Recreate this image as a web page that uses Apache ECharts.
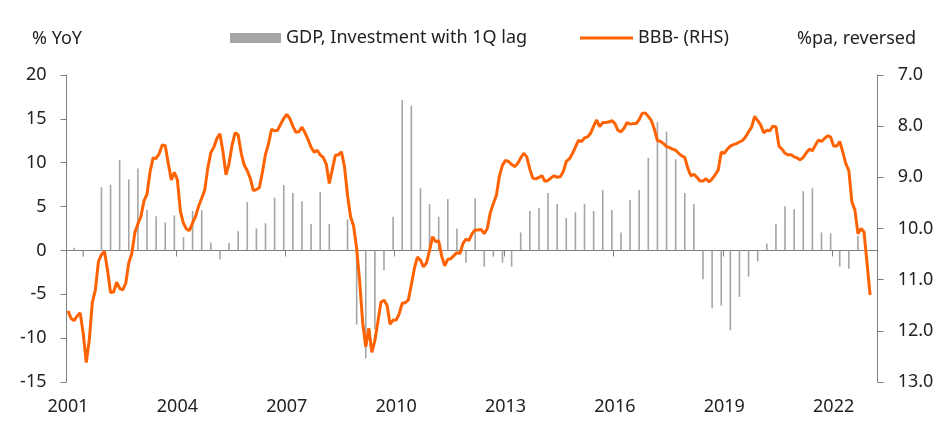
<!DOCTYPE html>
<html>
<head>
<meta charset="utf-8">
<script src="https://cdn.jsdelivr.net/npm/echarts@6/dist/echarts.min.js"></script>
<style>
  html, body { margin: 0; padding: 0; background: #fff; }
  #main { width: 952px; height: 438px; }
</style>
</head>
<body>
<div id="main"></div>
<script>
var FONT = '"Noto Sans", sans-serif';

// monthly categories, Jan 2001 .. Mar 2023
var startYear = 2001;
var monthCount = 267;
var months = [];
for (var i = 0; i < monthCount; i++) {
    var y = startYear + Math.floor(i / 12);
    var m = (i % 12) + 1;
    months.push(y + '-' + (m < 10 ? '0' + m : m));
}

// GDP, Investment with 1Q lag (% YoY), quarterly from 2001Q1, plotted on the quarter's last month
var gdpInv = [
    0.3, -0.7, 0, 7.2,
    7.5, 10.3, 8.1, 9.35,
    4.6, 3.9, 3.2, 4.0,
    1.5, 4.5, 4.6, 0.9,
    -1.0, 0.85, 2.2, 5.5,
    2.5, 3.1, 6.0, 7.45,
    6.55, 5.6, 3.0, 6.65,
    3.0, 0, 3.55, -8.45,
    -12.3, -9.0, -2.25, 3.85,
    17.15, 16.5, 7.1, 5.3,
    3.85, 5.85, 2.5, -1.4,
    5.95, -1.85, -0.7, -1.4,
    -1.85, 2.05, 4.5, 4.85,
    6.55, 5.3, 3.7, 4.35,
    5.3, 4.5, 6.9, 4.6,
    2.05, 5.75, 6.9, 10.55,
    14.65, 13.55, 10.4, 6.55,
    5.3, -3.3, -6.6, -6.3,
    -9.1, -5.3, -3.0, -1.25,
    0.8, 3.0, 5.05, 4.7,
    6.75, 7.1, 2.05, 1.95,
    -1.85, -2.1, 1.65
];

// BBB- yield (%pa), monthly from Jan 2001, right axis reversed
var bbb = [
    11.61, 11.76, 11.80, 11.71, 11.65, 12.05, 12.62, 12.18, 11.45, 11.20, 10.65, 10.51,
    10.45, 10.81, 11.25, 11.24, 11.05, 11.17, 11.20, 11.07, 10.67, 10.49, 10.08, 9.91,
    9.76, 9.46, 9.33, 8.89, 8.62, 8.63, 8.54, 8.37, 8.38, 8.73, 9.05, 8.90,
    9.05, 9.67, 9.90, 10.01, 10.04, 9.89, 9.76, 9.56, 9.41, 9.25, 8.82, 8.52,
    8.41, 8.24, 8.15, 8.50, 8.95, 8.73, 8.37, 8.13, 8.17, 8.53, 8.76, 8.87,
    9.02, 9.26, 9.24, 9.20, 8.89, 8.55, 8.34, 8.06, 8.09, 8.08, 7.96, 7.85,
    7.77, 7.85, 8.00, 8.12, 8.11, 8.02, 8.13, 8.26, 8.41, 8.51, 8.47, 8.56,
    8.61, 8.74, 9.12, 8.84, 8.57, 8.56, 8.50, 8.79, 9.35, 9.77, 9.95, 10.39,
    11.04, 11.85, 12.31, 11.95, 12.42, 12.19, 11.82, 11.44, 11.40, 11.50, 11.87, 11.79,
    11.79, 11.67, 11.46, 11.45, 11.40, 11.10, 10.78, 10.56, 10.62, 10.75, 10.67, 10.43,
    10.16, 10.26, 10.24, 10.54, 10.73, 10.60, 10.59, 10.53, 10.47, 10.49, 10.29, 10.21,
    10.23, 10.10, 10.03, 10.03, 10.02, 10.10, 10.00, 9.69, 9.51, 9.35, 8.97, 8.76,
    8.67, 8.69, 8.75, 8.79, 8.73, 8.62, 8.53, 8.60, 8.84, 9.02, 9.03, 9.00,
    8.97, 9.08, 9.06, 9.01, 8.97, 9.00, 8.99, 8.89, 8.69, 8.64, 8.54, 8.41,
    8.28, 8.30, 8.23, 8.21, 8.14, 8.00, 7.88, 8.01, 7.93, 7.93, 7.92, 7.89,
    7.95, 8.08, 8.11, 8.04, 7.93, 7.96, 7.95, 7.95, 7.87, 7.75, 7.74, 7.81,
    7.89, 8.06, 8.28, 8.30, 8.34, 8.40, 8.42, 8.45, 8.47, 8.53, 8.58, 8.61,
    8.82, 8.97, 8.94, 9.00, 9.07, 9.07, 9.03, 9.09, 9.03, 8.95, 8.86, 8.51,
    8.53, 8.45, 8.39, 8.36, 8.34, 8.31, 8.28, 8.21, 8.11, 8.02, 7.81, 7.89,
    7.98, 8.13, 8.08, 8.09, 8.00, 8.01, 8.39, 8.45, 8.53, 8.56, 8.56, 8.60,
    8.62, 8.66, 8.61, 8.52, 8.45, 8.48, 8.37, 8.27, 8.30, 8.24, 8.19, 8.21,
    8.39, 8.39, 8.30, 8.50, 8.73, 8.87, 9.48, 9.64, 10.10, 10.00, 10.07, 10.68,
    11.30
];

var leftTicks = { min: -15, max: 20, interval: 5 };
var rightTicks = { min: 7, max: 13, interval: 1 };

var barData = months.map(function () { return null; });
gdpInv.forEach(function (v, q) { barData[3 * q + 2] = v; });

function yearTick(index) { return index % 36 === 0; }

var myChart = echarts.init(document.getElementById('main'));

var option = {
    animation: false,
    textStyle: { fontFamily: FONT },
    grid: { left: 66.5, right: 74.3, top: 75, bottom: 56 },
    graphic: [
        { type: 'text', left: 32, top: 30,
          style: { text: '% YoY', fontSize: 18, fontFamily: FONT, fill: '#222' } },
        { type: 'text', left: 797, top: 30,
          style: { text: '%pa, reversed', fontSize: 18, fontFamily: FONT, fill: '#222' } }
    ],
    legend: [
        {
            data: ['GDP, Investment with 1Q lag'],
            left: 230, top: 29, padding: 0,
            itemWidth: 51, itemHeight: 10, icon: 'rect',
            textStyle: { fontSize: 18, fontFamily: FONT, color: '#222' }
        },
        {
            data: ['BBB- (RHS)'],
            left: 580, top: 29, padding: 0,
            itemWidth: 53, itemHeight: 3, icon: 'rect',
            textStyle: { fontSize: 18, fontFamily: FONT, color: '#222' }
        }
    ],
    xAxis: [
        {
            type: 'category',
            data: months,
            position: 'bottom',
            axisLine: { onZero: true, onZeroAxisIndex: 0, lineStyle: { color: '#7f7f7f', width: 1 } },
            axisTick: { show: true, interval: yearTick, length: 6, lineStyle: { color: '#7f7f7f' } },
            axisLabel: { show: false },
            splitLine: { show: false }
        },
        {
            type: 'category',
            data: months,
            position: 'bottom',
            axisLine: { show: false, onZero: false },
            axisTick: { show: false },
            axisLabel: {
                show: true, interval: yearTick, margin: 16,
                fontSize: 18, fontFamily: FONT, color: '#222',
                formatter: function (v) { return v.slice(0, 4); }
            },
            splitLine: { show: false }
        }
    ],
    yAxis: [
        {
            type: 'value',
            min: leftTicks.min, max: leftTicks.max, interval: leftTicks.interval,
            position: 'left',
            axisLine: { show: true, lineStyle: { color: '#7f7f7f' } },
            axisTick: { show: true, length: 6, lineStyle: { color: '#7f7f7f' } },
            axisLabel: { margin: 20, fontSize: 18, fontFamily: FONT, color: '#222' },
            splitLine: { show: false }
        },
        {
            type: 'value',
            min: rightTicks.min, max: rightTicks.max, interval: rightTicks.interval,
            inverse: true,
            position: 'right',
            axisLine: { show: true, lineStyle: { color: '#7f7f7f' } },
            axisTick: { show: true, length: 6, lineStyle: { color: '#7f7f7f' } },
            axisLabel: {
                margin: 20, fontSize: 18, fontFamily: FONT, color: '#222',
                formatter: function (v) { return v.toFixed(1); }
            },
            splitLine: { show: false }
        }
    ],
    series: [
        {
            name: 'GDP, Investment with 1Q lag',
            type: 'bar',
            xAxisIndex: 0, yAxisIndex: 0,
            data: barData,
            barWidth: 1.6,
            itemStyle: { color: '#a5a5a5' }
        },
        {
            name: 'BBB- (RHS)',
            type: 'line',
            xAxisIndex: 0, yAxisIndex: 1,
            data: bbb,
            symbol: 'none',
            lineStyle: { color: '#ff6200', width: 3 },
            itemStyle: { color: '#ff6200' }
        }
    ]
};
myChart.setOption(option);
</script>
</body>
</html>
